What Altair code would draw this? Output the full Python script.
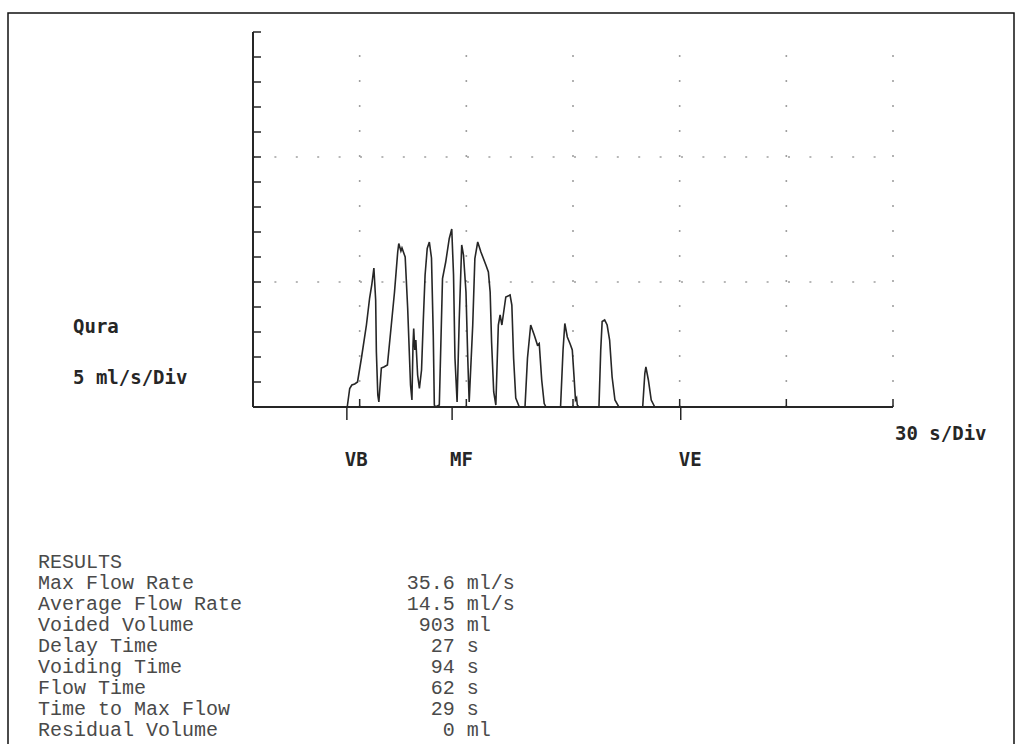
import altair as alt
import pandas as pd

# ---- flow trace (time in s, flow in ml/s) ----
time_s = [0, 26.5, 27.2, 27.8, 28.6, 29.4, 30.5, 31.9, 32.8, 33.4, 34.0, 34.5, 34.7, 35.1, 35.4,
          36.1, 36.8, 37.8, 38.9, 39.8, 40.7, 41.0, 41.6, 41.9, 42.8, 43.5, 44.3, 44.7,
          45.0, 45.2, 45.5, 45.8, 46.3, 46.8, 47.4, 47.9, 48.4, 49.0, 49.6, 50.2, 50.7, 51.0, 51.3,
          52.4, 53.3, 54.2, 55.2, 55.9, 56.4, 56.8, 57.4, 58.0, 58.7, 59.2, 59.9, 60.4, 60.8,
          61.8, 62.4, 63.2, 64.1, 65.5, 66.2, 66.7, 67.1, 67.7, 68.3,
          69.0, 69.5, 70.0, 71.1, 72.3, 72.8, 73.3, 73.9, 74.9, 76.5,
          77.2, 78.1, 79.1, 80.0, 80.5, 81.2, 81.9, 82.4, 86.5,
          87.2, 87.7, 88.4, 89.2, 89.8, 90.3, 90.7, 91.0, 91.2, 91.7, 97.3,
          97.8, 98.2, 98.9, 99.6, 100.3, 101.0, 101.8, 102.9, 109.6,
          110.2, 110.5, 111.2, 112.0, 113.0, 129.0]
flow_mls = [0, 0, 3.7, 4.4, 4.6, 5.0, 9.8, 16.4, 21.8, 24.4, 27.8, 21.4, 11.0, 2.4, 1.0,
            7.8, 8.0, 8.4, 16.4, 23.0, 31.0, 32.7, 31.2, 31.8, 30.0, 19.8, 4.4, 1.4,
            12.4, 15.7, 11.4, 13.4, 6.4, 3.7, 7.4, 17.4, 26.4, 31.7, 33.0, 29.8, 14.4, 0.4, 0,
            0.4, 25.7, 29.0, 33.7, 35.6, 26.4, 9.8, 1.0, 17.4, 32.4, 30.4, 23.0, 9.8, 1.0,
            16.4, 29.7, 33.0, 31.0, 28.4, 27.0, 23.0, 13.0, 3.0, 0.4,
            16.4, 18.4, 16.4, 22.0, 22.4, 20.4, 9.7, 1.8, 0, 0,
            9.8, 16.4, 14.4, 12.4, 12.7, 5.4, 0.7, 0, 0,
            11.4, 16.7, 14.0, 12.6, 11.4, 6.0, 1.4, 1.8, 0.4, 0, 0,
            11.4, 17.1, 17.4, 16.4, 13.4, 6.0, 1.4, 0, 0,
            6.7, 8.0, 5.4, 1.4, 0, 0]

# ---- axes / grid ----
x_div = [30, 60, 90, 120, 150, 180]
y_div = [5, 10, 15, 20, 25, 30, 35, 40, 45, 50, 55, 60, 65, 70, 75]
dotted_rows = [25, 50]
marker_names = ["VB", "MF", "VE"]
marker_times = [26.4, 56.0, 120.3]

# ---- results text ----
result_labels = ["RESULTS", "Max Flow Rate", "Average Flow Rate", "Voided Volume", "Delay Time",
                 "Voiding Time", "Flow Time", "Time to Max Flow", "Residual Volume"]
result_values = ["35.6 ml/s", "14.5 ml/s", "903 ml", "27 s", "94 s", "62 s", "29 s", "0 ml"]
value_digits = [4, 4, 3, 2, 2, 2, 2, 1]   # width of the number, used for right-aligning it

W, H = 640, 375
INK = "#262626"
TXT = "#4a4a4a"
GRID = "#a0a0a0"
xs = alt.Scale(domain=[0, 180], nice=False, zero=True)
ys = alt.Scale(domain=[0, 75], nice=False, zero=True)

def X(f):
    return alt.X(f, type="quantitative", scale=xs, axis=None)

def Y(f):
    return alt.Y(f, type="quantitative", scale=ys, axis=None)

vgrid_df = pd.DataFrame({"t": x_div, "q0": 0, "q1": 75})
vgrid = alt.Chart(vgrid_df).mark_rule(color=GRID, strokeWidth=1.6, strokeDash=[2, 23]).encode(
    x=X("t"), y=Y("q0"), y2="q1")

hgrid_df = pd.DataFrame({"q": dotted_rows, "t0": 0, "t1": 180})
hgrid = alt.Chart(hgrid_df).mark_rule(color=GRID, strokeWidth=1.6, strokeDash=[2, 19.4]).encode(
    y=Y("q"), x=X("t0"), x2="t1")

axes_df = pd.DataFrame({"t0": [0, 0], "t1": [180, 0], "q0": [0, 0], "q1": [0, 75]})
axes = alt.Chart(axes_df).mark_rule(color=INK, strokeWidth=2).encode(
    x=X("t0"), x2="t1", y=Y("q0"), y2="q1")

yt = alt.Chart(pd.DataFrame({"q": y_div})).mark_rule(color=INK, strokeWidth=1.5).encode(
    y=Y("q"), x=alt.value(0), x2=alt.value(8))

xt = alt.Chart(pd.DataFrame({"t": x_div})).mark_rule(color=INK, strokeWidth=1.5).encode(
    x=X("t"), y=alt.value(H), y2=alt.value(H - 8))

mk_df = pd.DataFrame({"name": marker_names, "t": marker_times})
mt = alt.Chart(mk_df).mark_rule(color=INK, strokeWidth=1.5).encode(
    x=X("t"), y=alt.value(H), y2=alt.value(H + 13))
ml = alt.Chart(mk_df).mark_text(font="DejaVu Sans Mono", fontWeight="bold", fontSize=19,
                                color=INK, align="left", baseline="middle", dx=-2).encode(
    x=X("t"), y=alt.value(H + 53), text="name:N")

flow_df = pd.DataFrame({"t": time_s, "q": flow_mls})
trace = alt.Chart(flow_df).mark_line(color=INK, strokeWidth=1.6, interpolate="linear").encode(
    x=X("t"), y=Y("q"), order="t:Q")

one = pd.DataFrame({"k": [0]})

def label(txt, x, y, font="DejaVu Sans Mono", size=19, bold=True, color=INK):
    kw = dict(text=txt, font=font, fontSize=size, color=color, align="left", baseline="middle")
    if bold:
        kw["fontWeight"] = "bold"
    return alt.Chart(one).mark_text(**kw).encode(x=alt.value(x), y=alt.value(y))

qura = label("Qura", -180, 295)
ydiv = label("5 ml/s/Div", -180, 346)
xdiv = label("30 s/Div", 642, 402)

FS = 20
ADV = 0.6 * FS    # monospace advance of the results font
ROW0, STEP = 530, 21.0
LAB_X, VAL_X = -215, 153.7
res_layers = []
for i, txt in enumerate(result_labels):
    res_layers.append(label(txt, LAB_X, ROW0 + i * STEP, font="Liberation Mono", size=FS,
                            bold=False, color=TXT))
for i, (txt, nd) in enumerate(zip(result_values, value_digits)):
    res_layers.append(label(txt, VAL_X + (4 - nd) * ADV, ROW0 + (i + 1) * STEP,
                            font="Liberation Mono", size=FS, bold=False, color=TXT))

frame = alt.Chart(one).mark_rect(fill=None, stroke="#111111", strokeWidth=1.5).encode(
    x=alt.value(-245), x2=alt.value(761), y=alt.value(-19), y2=alt.value(760))

chart = alt.layer(frame, vgrid, hgrid, axes, yt, xt, mt, trace, ml, qura, ydiv, xdiv,
                  *res_layers).properties(
    width=W, height=H,
    autosize=alt.AutoSizeParams(type="none"),
    padding={"left": 253, "top": 32, "right": 129, "bottom": 337},
    background="white",
).configure_view(stroke=None)

chart.save("out.html", embed_options={"renderer": "svg", "actions": False})
